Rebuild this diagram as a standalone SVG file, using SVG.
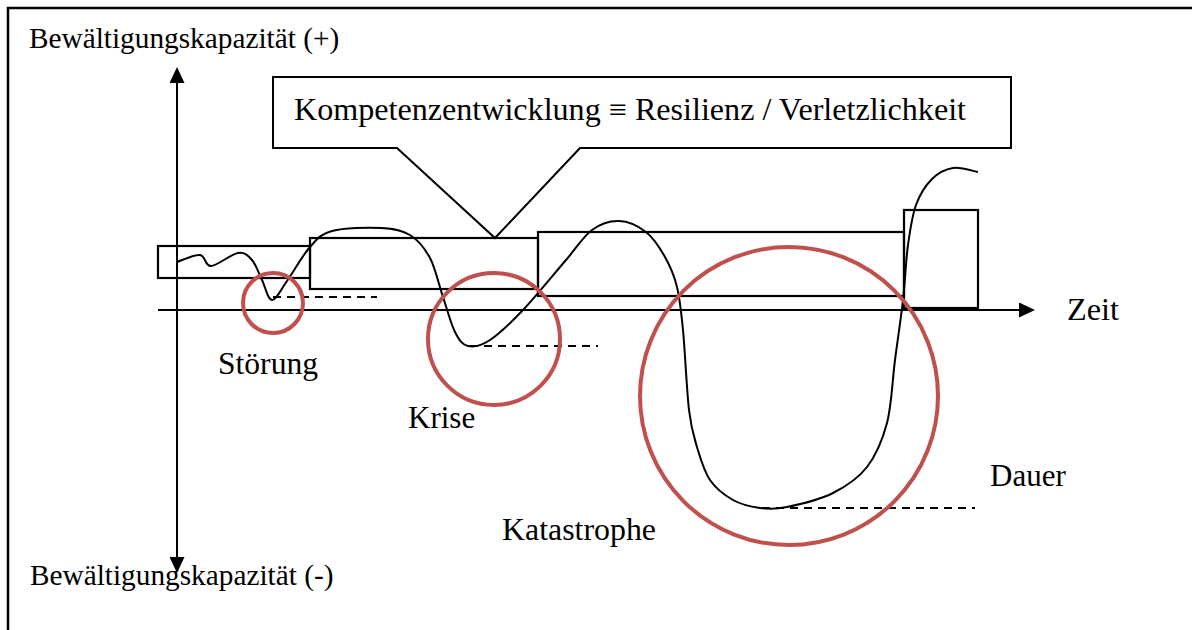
<svg xmlns="http://www.w3.org/2000/svg" width="1192" height="630" viewBox="0 0 1192 630">
  <defs>
    <marker id="arrow" viewBox="0 0 16 15" refX="1" refY="7.5" markerWidth="16" markerHeight="15" markerUnits="userSpaceOnUse" orient="auto-start-reverse">
      <path d="M0,0 L16,7.5 L0,15 Z" fill="#000"/>
    </marker>
    <style>
      .ln { fill: none; stroke: #000; stroke-width: 2; }
      .bar { fill: none; stroke: #000; stroke-width: 2.2; }
      .ring { fill: none; stroke: #c0504d; stroke-width: 4; }
      .dash { fill: none; stroke: #000; stroke-width: 2; stroke-dasharray: 8 6; }
      .lbl { font-family: "Liberation Serif", "Times New Roman", serif; font-size: 31px; fill: #000; }
      .axis-lbl { font-family: "Liberation Serif", "Times New Roman", serif; font-size: 29.3px; fill: #000; }
    </style>
  </defs>
  <rect width="1192" height="630" fill="#fff"/>

  <!-- outer frame -->
  <path d="M8,630 V8 H1192" fill="none" stroke="#000" stroke-width="2.5"/>

  <!-- axes -->
  <g id="axes">
    <line class="ln" x1="177" y1="82" x2="177" y2="558" marker-start="url(#arrow)" marker-end="url(#arrow)"/>
    <line class="ln" x1="158" y1="310" x2="1020" y2="310" marker-end="url(#arrow)"/>
    <text class="axis-lbl" x="29" y="48">Bewältigungskapazität (+)</text>
    <text class="axis-lbl" x="30" y="585">Bewältigungskapazität (-)</text>
    <text class="lbl" x="1067" y="320" textLength="52" lengthAdjust="spacingAndGlyphs">Zeit</text>
  </g>

  <!-- competence bars -->
  <g id="bar-1"><rect class="bar" x="158" y="246" width="152" height="32"/></g>
  <g id="bar-2"><rect class="bar" x="310" y="238" width="228" height="51"/></g>
  <g id="bar-3"><rect class="bar" x="538" y="232" width="366" height="64"/></g>
  <g id="bar-4"><rect class="bar" x="904" y="210" width="74" height="98"/></g>

  <!-- callout -->
  <g id="callout">
    <path class="ln" d="M273,77 H1011 V148 H580 L495,238 L397,148 H273 Z" fill="#fff"/>
    <text class="lbl" x="294" y="120" font-size="32" textLength="672" lengthAdjust="spacingAndGlyphs">Kompetenzentwicklung ≡ Resilienz / Verletzlichkeit</text>
  </g>

  <!-- connectors: capacity curve and baseline levels -->
  <g id="connectors">
    <path class="ln" d="M177,262
      C180.8,260.8 194.3,254.3 200,255
      C205.7,255.7 204.7,266.3 211,266
      C217.3,265.7 231.2,254 238,253
      C244.8,252 248,255.5 252,260
      C256,264.5 258.7,273.3 262,280
      C265.3,286.7 267.8,299.8 272,300
      C276.2,300.2 280.7,289.8 287,281
      C293.3,272.2 302.5,255.3 310,247
      C317.5,238.7 320.2,234.2 332,231
      C343.8,227.8 368,227.3 381,228
      C394,228.7 401.8,230 410,235
      C418.2,240 424.5,247.7 430,258
      C435.5,268.3 438.8,284.7 443,297
      C447.2,309.3 450.8,323.8 455,332
      C459.2,340.2 462.2,344.7 468,346
      C473.8,347.3 480.8,346 490,340
      C499.2,334 510.3,323.3 523,310
      C535.7,296.7 554.5,273.3 566,260
      C577.5,246.7 583.2,236.5 592,230
      C600.8,223.5 610,220.7 619,221
      C628,221.3 638.3,226 646,232
      C653.7,238 659.8,247.8 665,257
      C670.2,266.2 674,274.8 677,287
      C680,299.2 681,309.5 683,330
      C685,350.5 686.7,390.5 689,410
      C691.3,429.5 693.5,435.3 697,447
      C700.5,458.7 704,471.2 710,480
      C716,488.8 724.7,495.3 733,500
      C741.3,504.7 751,506.8 760,508
      C769,509.2 774.8,509.5 787,507
      C799.2,504.5 819.7,499.7 833,493
      C846.3,486.3 858,478.7 867,467
      C876,455.3 882.3,440.8 887,423
      C891.7,405.2 892.3,380.5 895,360
      C897.7,339.5 900.8,319.2 903,300
      C905.2,280.8 905.8,260.8 908,245
      C910.2,229.2 912,216 916,205
      C920,194 925.8,185.2 932,179
      C938.2,172.8 945.3,169.2 953,168
      C960.7,166.8 973.8,171.3 978,172"/>
    <line class="dash" x1="273" y1="297" x2="377" y2="297"/>
    <line class="dash" x1="470" y1="346" x2="598" y2="346"/>
    <line class="dash" x1="762" y1="508" x2="975" y2="508"/>
  </g>

  <!-- event zones -->
  <g id="stoerung">
    <circle class="ring" cx="273" cy="303" r="30"/>
    <text class="lbl" x="218" y="374" textLength="100" lengthAdjust="spacingAndGlyphs">Störung</text>
  </g>
  <g id="krise">
    <circle class="ring" cx="494" cy="339" r="66"/>
    <text class="lbl" x="408" y="428">Krise</text>
  </g>
  <g id="katastrophe">
    <circle class="ring" cx="789" cy="396" r="149"/>
    <text class="lbl" x="502" y="540" textLength="154" lengthAdjust="spacingAndGlyphs">Katastrophe</text>
  </g>
  <g id="dauer">
    <text class="lbl" x="990" y="486">Dauer</text>
  </g>
</svg>
